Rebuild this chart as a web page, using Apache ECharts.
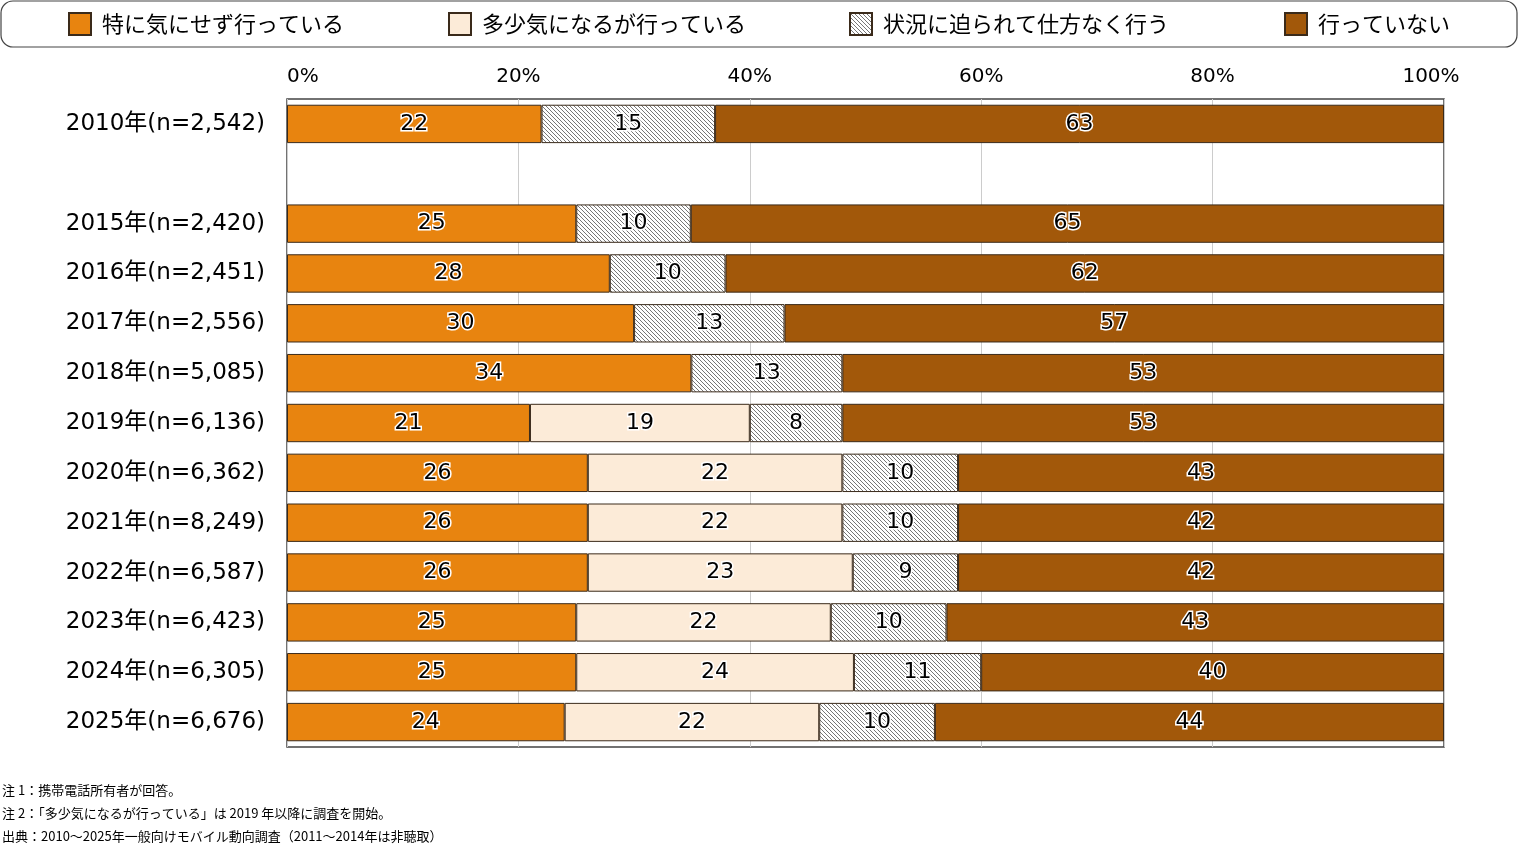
<!DOCTYPE html>
<html>
<head>
<meta charset="utf-8">
<script src="https://cdn.jsdelivr.net/npm/echarts@6/dist/echarts.min.js"></script>
<style>
  html, body { margin: 0; padding: 0; background: #fff; }
  #main { width: 1519px; height: 849px; }
</style>
</head>
<body>
<div id="main"></div>
<script>
// 年次（2010年と2015年の間は空き行）
var years = ['2010年(n=2,542)', '', '2015年(n=2,420)', '2016年(n=2,451)', '2017年(n=2,556)',
    '2018年(n=5,085)', '2019年(n=6,136)', '2020年(n=6,362)', '2021年(n=8,249)',
    '2022年(n=6,587)', '2023年(n=6,423)', '2024年(n=6,305)', '2025年(n=6,676)'];

var seriesNames = ['特に気にせず行っている', '多少気になるが行っている', '状況に迫られて仕方なく行う', '行っていない'];

// 帯の長さ（%）
var tokuni   = [22, '-', 25, 27.9, 30, 34.95, 21, 26, 26, 26, 25, 25, 24];
var tashou   = ['-', '-', '-', '-', '-', '-', 19, 22, 22, 22.9, 22, 24, 22];
var jyoukyou = [15, '-', 9.9, 10, 13, 13.05, 8, 10, 10, 9.1, 10, 11, 10];
var inai     = [63, '-', 65.1, 62.1, 57, 52, 52, 42, 42, 42, 43, 40, 44];

// 表示ラベル
var tokuniLbl   = [22, '', 25, 28, 30, 34, 21, 26, 26, 26, 25, 25, 24];
var tashouLbl   = ['', '', '', '', '', '', 19, 22, 22, 23, 22, 24, 22];
var jyoukyouLbl = [15, '', 10, 10, 13, 13, 8, 10, 10, 9, 10, 11, 10];
var inaiLbl     = [63, '', 65, 62, 57, 53, 53, 43, 42, 42, 43, 40, 44];

var xTicks = [0, 20, 40, 60, 80, 100];

var FONT = '"Noto Sans CJK JP", "Noto Sans", sans-serif';
var NUMFONT = '"DejaVu Sans", "Noto Sans CJK JP", sans-serif';

// 斜線パターン
function hatch() {
    var c = document.createElement('canvas');
    c.width = 4; c.height = 4;
    var ctx = c.getContext('2d');
    ctx.fillStyle = '#fff';
    ctx.fillRect(0, 0, 4, 4);
    ctx.strokeStyle = '#777';
    ctx.lineWidth = 1;
    ctx.beginPath();
    for (var k = -4; k <= 4; k += 4) {
        ctx.moveTo(k, 0);
        ctx.lineTo(k + 4, 4);
    }
    ctx.stroke();
    return c;
}

var chart = echarts.init(document.getElementById('main'));

function lbl(arr) {
    return {
        show: true,
        position: 'inside',
        fontFamily: NUMFONT,
        fontSize: 22,
        color: '#000',
        textBorderColor: '#fff',
        textBorderWidth: 3,
        formatter: function (p) { return arr[p.dataIndex]; }
    };
}

function mkSeries(name, data, color, labels) {
    return {
        name: name,
        type: 'bar',
        stack: 'all',
        barWidth: '77%',
        data: data,
        itemStyle: { color: color, borderColor: '#3a2a1a', borderWidth: 1 },
        label: lbl(labels)
    };
}

var legendLeft = [68, 448, 849, 1284];
var legends = seriesNames.map(function (n, i) {
    return {
        data: [n],
        left: legendLeft[i],
        top: 12,
        padding: 0,
        icon: 'rect',
        itemWidth: 22,
        itemHeight: 22,
        itemGap: 0,
        selectedMode: false,
        textStyle: { fontFamily: FONT, fontSize: 22, color: '#000', padding: [0, 0, 0, 6] }
    };
});

var option = {
    animation: false,
    backgroundColor: '#fff',
    legend: legends,
    grid: {
        left: 287,
        right: 75,
        top: 99,
        bottom: 102,
        show: true,
        borderColor: '#444',
        borderWidth: 1.5
    },
    xAxis: {
        type: 'value',
        position: 'top',
        min: 0,
        max: 100,
        interval: 20,
        axisLine: { show: false },
        axisTick: { show: false },
        splitLine: { lineStyle: { color: '#ccc' } },
        axisLabel: {
            fontFamily: NUMFONT,
            fontSize: 20,
            color: '#000',
            margin: 12,
            alignMinLabel: 'left',
            formatter: function (v) {
                if (xTicks.indexOf(v) < 0) return '';
                return v === 100 ? '{mx|' + v + '%}' : v + '%';
            },
            rich: {
                mx: { fontFamily: NUMFONT, fontSize: 20, color: '#000', padding: [0, 26, 0, 0] }
            }
        }
    },
    yAxis: {
        type: 'category',
        inverse: true,
        data: years,
        axisLine: { show: false },
        axisTick: { show: false },
        axisLabel: { fontFamily: NUMFONT, fontSize: 23, color: '#000', margin: 22 }
    },
    series: [
        mkSeries(seriesNames[0], tokuni, '#E8840F', tokuniLbl),
        mkSeries(seriesNames[1], tashou, '#FCEBD8', tashouLbl),
        mkSeries(seriesNames[2], jyoukyou, { image: hatch(), repeat: 'repeat' }, jyoukyouLbl),
        mkSeries(seriesNames[3], inai, '#A2580A', inaiLbl)
    ],
    graphic: [
        {
            type: 'rect',
            shape: { x: 1, y: 1, width: 1516, height: 46, r: 12 },
            style: { fill: 'none', stroke: '#444', lineWidth: 1.2 },
            z: -1
        },
        {
            type: 'text', left: 2, top: 784,
            style: { text: '注 1：携帯電話所有者が回答。', font: '13px ' + FONT, fill: '#000' }
        },
        {
            type: 'text', left: 2, top: 807,
            style: { text: '注 2：「多少気になるが行っている」は 2019 年以降に調査を開始。', font: '13px ' + FONT, fill: '#000' }
        },
        {
            type: 'text', left: 2, top: 830,
            style: { text: '出典：2010～2025年一般向けモバイル動向調査（2011～2014年は非聴取）', font: '13px ' + FONT, fill: '#000' }
        }
    ]
};

chart.setOption(option);
</script>
</body>
</html>
